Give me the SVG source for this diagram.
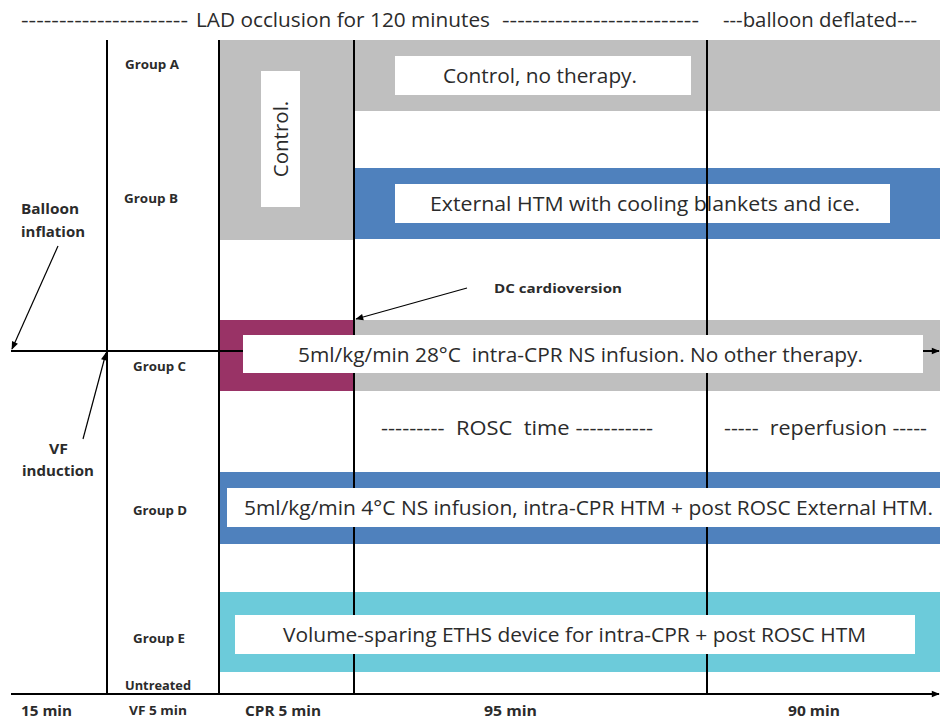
<svg xmlns="http://www.w3.org/2000/svg" width="940" height="719" viewBox="0 0 940 719">
  <style>
    text { font-family: "Open Sans", "Liberation Sans", sans-serif; fill: #2b2b2b; white-space: pre; }
    .big { font-size: 20.5px; }
    .lbl { font-size: 12px; font-weight: bold; }
    .note { font-size: 14px; font-weight: bold; }
    .box { fill: #ffffff; }
    .gray { fill: #bfbfbf; }
    .blue { fill: #4f81bd; }
    .plum { fill: #993366; }
    .cyan { fill: #6ccbda; }
    .grid { stroke: #000; stroke-width: 2; fill: none; }
    .axis { stroke: #000; stroke-width: 2; fill: none; }
    .pointer { stroke: #000; stroke-width: 1.2; fill: none; }
  </style>
  <defs>
    <marker id="axis-head" viewBox="0 0 10 10" refX="9" refY="5" markerWidth="9" markerHeight="8" markerUnits="userSpaceOnUse" orient="auto">
      <path d="M0,1 L10,5 L0,9 z" fill="#000"/>
    </marker>
    <marker id="ptr-head" viewBox="0 0 10 10" refX="9" refY="5" markerWidth="11" markerHeight="8" markerUnits="userSpaceOnUse" orient="auto">
      <path d="M0,1 L10,5 L0,9 z" fill="#000"/>
    </marker>
  </defs>

  <rect width="940" height="719" fill="#ffffff"/>

  <!-- header -->
  <g id="header" class="big">
    <text x="21" y="27" textLength="167" lengthAdjust="spacingAndGlyphs">----------------------</text>
    <text x="196" y="27" textLength="294" lengthAdjust="spacingAndGlyphs">LAD occlusion for 120 minutes</text>
    <text x="502" y="27" textLength="197" lengthAdjust="spacingAndGlyphs">--------------------------</text>
    <text x="723" y="27" textLength="194" lengthAdjust="spacingAndGlyphs">---balloon deflated---</text>
  </g>

  <!-- treatment bands -->
  <g id="group-a-band">
    <rect class="gray" x="219" y="40" width="135" height="200"/>
    <rect class="gray" x="354" y="40" width="586" height="71"/>
  </g>
  <g id="group-b-band">
    <rect class="blue" x="354" y="168" width="586" height="71"/>
  </g>
  <g id="group-c-band">
    <rect class="plum" x="219" y="320" width="135" height="71"/>
    <rect class="gray" x="354" y="320" width="586" height="71"/>
  </g>
  <g id="group-d-band">
    <rect class="blue" x="219" y="472" width="721" height="72"/>
  </g>
  <g id="group-e-band">
    <rect class="cyan" x="219" y="592" width="721" height="80"/>
  </g>

  <!-- group B label sits beneath the 95/90 min divider -->
  <g id="group-b">
    <rect class="box" x="395" y="184" width="495" height="39"/>
    <text class="big" x="430" y="211" textLength="430" lengthAdjust="spacingAndGlyphs">External HTM with cooling blankets and ice.</text>
    <text class="lbl" x="124" y="203" textLength="54" lengthAdjust="spacingAndGlyphs">Group B</text>
  </g>

  <!-- time grid and axes -->
  <g id="connectors">
    <line class="grid" x1="107" y1="40" x2="107" y2="694"/>
    <line class="grid" x1="219" y1="40" x2="219" y2="694"/>
    <line class="grid" x1="354" y1="40" x2="354" y2="694"/>
    <line class="grid" x1="707" y1="40" x2="707" y2="694"/>
    <line class="axis" x1="11" y1="351" x2="939" y2="351" marker-end="url(#axis-head)"/>
    <line class="axis" x1="11" y1="694" x2="939" y2="694" marker-end="url(#axis-head)"/>
    <line class="pointer" x1="58" y1="246" x2="12" y2="349" marker-end="url(#ptr-head)"/>
    <line class="pointer" x1="83" y1="439" x2="106" y2="353" marker-end="url(#ptr-head)"/>
    <line class="pointer" x1="467" y1="288" x2="356" y2="319" marker-end="url(#ptr-head)"/>
  </g>

  <g id="group-a">
    <rect class="box" x="261" y="71" width="39" height="136"/>
    <text class="big" transform="translate(288,139) rotate(-90)" text-anchor="middle">Control.</text>
    <rect class="box" x="395" y="56" width="296" height="39"/>
    <text class="big" x="443" y="83" textLength="194" lengthAdjust="spacingAndGlyphs">Control, no therapy.</text>
    <text class="lbl" x="125" y="69" textLength="54" lengthAdjust="spacingAndGlyphs">Group A</text>
  </g>

  <g id="group-c">
    <rect class="box" x="243" y="335" width="680" height="38"/>
    <text class="big" x="298" y="362" textLength="565" lengthAdjust="spacingAndGlyphs">5ml/kg/min 28°C  intra-CPR NS infusion. No other therapy.</text>
    <text class="lbl" x="133" y="371" textLength="53" lengthAdjust="spacingAndGlyphs">Group C</text>
  </g>

  <g id="phase-labels" class="big">
    <text x="381" y="435" textLength="272" lengthAdjust="spacingAndGlyphs">---------  ROSC  time -----------</text>
    <text x="724" y="435" textLength="203" lengthAdjust="spacingAndGlyphs">-----  reperfusion -----</text>
  </g>

  <g id="group-d">
    <rect class="box" x="227" y="488" width="713" height="39"/>
    <text class="big" x="244" y="515" textLength="689" lengthAdjust="spacingAndGlyphs">5ml/kg/min 4°C NS infusion, intra-CPR HTM + post ROSC External HTM.</text>
    <text class="lbl" x="133" y="515" textLength="54" lengthAdjust="spacingAndGlyphs">Group D</text>
  </g>

  <g id="group-e">
    <rect class="box" x="235" y="615" width="680" height="39"/>
    <text class="big" x="283" y="642" textLength="583" lengthAdjust="spacingAndGlyphs">Volume-sparing ETHS device for intra-CPR + post ROSC HTM</text>
    <text class="lbl" x="133" y="643" textLength="52" lengthAdjust="spacingAndGlyphs">Group E</text>
    <text class="lbl" x="125" y="690" textLength="66" lengthAdjust="spacingAndGlyphs">Untreated</text>
  </g>

  <!-- event annotations -->
  <g id="events" class="note">
    <text x="21" y="214" textLength="58" lengthAdjust="spacingAndGlyphs">Balloon</text>
    <text x="21" y="237" textLength="64" lengthAdjust="spacingAndGlyphs">inflation</text>
    <text x="49" y="454" textLength="19" lengthAdjust="spacingAndGlyphs">VF</text>
    <text x="22" y="476" textLength="72" lengthAdjust="spacingAndGlyphs">induction</text>
    <text class="lbl" x="494" y="293" textLength="128" lengthAdjust="spacingAndGlyphs">DC cardioversion</text>
  </g>

  <!-- durations along the time axis -->
  <g id="durations" class="note">
    <text x="21" y="716" textLength="51" lengthAdjust="spacingAndGlyphs">15 min</text>
    <text class="lbl" x="129" y="715" textLength="58" lengthAdjust="spacingAndGlyphs">VF 5 min</text>
    <text x="245" y="716" textLength="76" lengthAdjust="spacingAndGlyphs">CPR 5 min</text>
    <text x="484" y="716" textLength="53" lengthAdjust="spacingAndGlyphs">95 min</text>
    <text x="788" y="716" textLength="52" lengthAdjust="spacingAndGlyphs">90 min</text>
  </g>
</svg>
